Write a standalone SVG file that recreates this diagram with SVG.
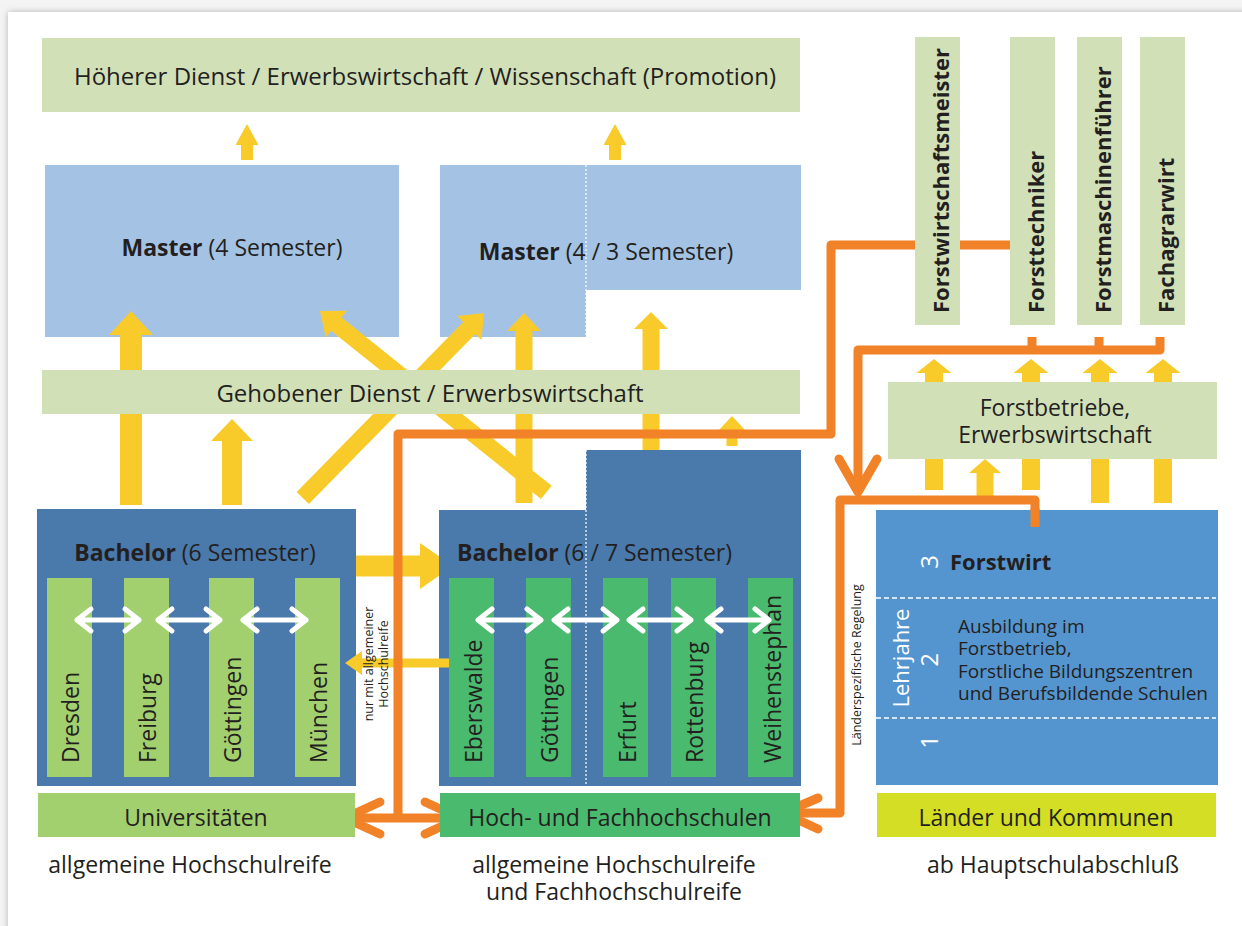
<svg xmlns="http://www.w3.org/2000/svg" width="1242" height="926" viewBox="0 0 1242 926">
<defs>
<filter id="sh" x="-5%" y="-5%" width="110%" height="110%"><feDropShadow dx="0" dy="0" stdDeviation="3" flood-color="#888" flood-opacity="0.6"/></filter>
<style>
.t{font-family:"Open Sans","Noto Sans","DejaVu Sans",sans-serif;fill:#231f20;font-size:23px}
.b{font-weight:bold}
.w{fill:#ffffff}
.lg{fill:#d2e0b8}
.ms{fill:#a4c3e4}
.ba{fill:#4a79ab}
.c1{fill:#a3d06e}
.c2{fill:#4aba6f}
.y{fill:#f9cb2a}
.or{fill:none;stroke:#f28227;stroke-width:9;stroke-linejoin:round;stroke-linecap:butt}
.orc{fill:none;stroke:#f28227;stroke-width:9;stroke-linejoin:round;stroke-linecap:round}
.wa{fill:none;stroke:#ffffff;stroke-width:5;stroke-linejoin:round;stroke-linecap:round}
.dash{fill:none;stroke:#ffffff;stroke-width:1.2;stroke-dasharray:2 2}
.dash2{fill:none;stroke:#ffffff;stroke-width:1.6;stroke-dasharray:5 3}
</style>
</defs>
<rect x="0" y="0" width="1242" height="926" fill="#f4f4f4"/>
<rect x="8" y="12" width="1250" height="930" fill="#ffffff" filter="url(#sh)"/>

<g id="hoeherer-dienst">
<rect class="lg" x="42" y="38" width="758" height="74"/>
<text class="t" style="font-size:24px" x="425" y="85" text-anchor="middle">Höherer Dienst / Erwerbswirtschaft / Wissenschaft (Promotion)</text>
</g>

<g id="master-left">
<rect class="ms" x="45" y="165" width="354" height="172"/>
<text class="t" x="232" y="256" text-anchor="middle"><tspan class="b">Master</tspan> (4 Semester)</text>
</g>

<g id="master-right">
<path class="ms" d="M440,165 H801 V290 H586 V337 H440 Z"/>
<line class="dash" x1="586" y1="165" x2="586" y2="337"/>
<text class="t" x="606" y="260" text-anchor="middle"><tspan class="b">Master</tspan> (4 / 3 Semester)</text>
</g>

<g id="yellow-arrows">
<polygon class="y" points="247,124 258.5,145 253,145 253,160 241,160 241,145 235.5,145"/>
<polygon class="y" points="615,124 626.5,145 621,145 621,160 609,160 609,145 603.5,145"/>
<polygon class="y" points="131,311 153,335 142,335 142,505 120,505 120,335 109,335"/>
<polygon class="y" points="232,419 253,441 242,441 242,505 222,505 222,441 211,441"/>
<polygon class="y" points="524,313 541,331 532.5,331 532.5,503 515.5,503 515.5,331 507,331"/>
<polygon class="y" points="651,312 668,329 659.5,329 659.5,452 642.5,452 642.5,329 634,329"/>
<polygon class="y" points="732,416 745,430 737.5,430 737.5,446 726.5,446 726.5,430 719,430"/>
<polygon class="y" points="0,0 17,21 8.5,21 8.5,259 -8.5,259 -8.5,21 -17,21" transform="translate(484 313) rotate(44.4)"/>
<polygon class="y" points="0,0 17,21 8.5,21 8.5,290 -8.5,290 -8.5,21 -17,21" transform="translate(320 311) rotate(-51.3)"/>
<polygon class="y" points="453,566 420,543 420,555.5 349,555.5 349,576.5 420,576.5 420,589"/>
<polygon class="y" points="934,359 951.5,373 943,373 943,490 925,490 925,373 916.5,373"/>
<polygon class="y" points="1031,359 1048.5,373 1040,373 1040,490 1022,490 1022,373 1013.5,373"/>
<polygon class="y" points="1100,359 1117.5,373 1109,373 1109,503 1091,503 1091,373 1082.5,373"/>
<polygon class="y" points="1163,359 1180.5,373 1172,373 1172,503 1154,503 1154,373 1145.5,373"/>
<polygon class="y" points="985,459 1001,473 993.5,473 993.5,497 976.5,497 976.5,473 969,473"/>
</g>

<g id="gehobener-dienst">
<rect class="lg" x="42" y="370" width="758" height="44"/>
<text class="t" style="font-size:24px" x="430" y="402" text-anchor="middle">Gehobener Dienst / Erwerbswirtschaft</text>
</g>

<g id="bachelor-left">
<rect class="ba" x="37" y="509" width="319" height="277"/>
<text class="t" x="195" y="561" text-anchor="middle"><tspan class="b">Bachelor</tspan> (6 Semester)</text>
<rect class="c1" x="47" y="578" width="45" height="199"/>
<rect class="c1" x="124" y="578" width="45" height="199"/>
<rect class="c1" x="209" y="578" width="45" height="199"/>
<rect class="c1" x="295" y="578" width="45" height="199"/>
<text class="t" transform="translate(79 763) rotate(-90)">Dresden</text>
<text class="t" transform="translate(156 763) rotate(-90)">Freiburg</text>
<text class="t" transform="translate(241 763) rotate(-90)">Göttingen</text>
<text class="t" transform="translate(327 763) rotate(-90)">München</text>
<path class="wa" d="M77,620 H139 M91,609 L77,620 L91,631 M125,609 L139,620 L125,631"/>
<path class="wa" d="M158,620 H220 M172,609 L158,620 L172,631 M206,609 L220,620 L206,631"/>
<path class="wa" d="M243,620 H306 M257,609 L243,620 L257,631 M292,609 L306,620 L292,631"/>
</g>

<g id="bachelor-right">
<path class="ba" d="M439,510 H586 V450 H801 V786 H439 Z"/>
<line class="dash" x1="586" y1="450" x2="586" y2="786"/>
<text class="t" x="457" y="561"><tspan class="b">Bachelor</tspan> (6 / 7 Semester)</text>
<rect class="c2" x="449" y="578" width="45" height="199"/>
<rect class="c2" x="526" y="578" width="45" height="199"/>
<rect class="c2" x="603" y="578" width="45" height="199"/>
<rect class="c2" x="671" y="578" width="45" height="199"/>
<rect class="c2" x="748" y="578" width="45" height="199"/>
<text class="t" transform="translate(482 763) rotate(-90)">Eberswalde</text>
<text class="t" transform="translate(558 763) rotate(-90)">Göttingen</text>
<text class="t" transform="translate(636 763) rotate(-90)">Erfurt</text>
<text class="t" transform="translate(703 763) rotate(-90)">Rottenburg</text>
<text class="t" transform="translate(781 763) rotate(-90)">Weihenstephan</text>
<path class="wa" d="M478,620 H541 M492,609 L478,620 L492,631 M527,609 L541,620 L527,631"/>
<path class="wa" d="M554,620 H617 M568,609 L554,620 L568,631 M603,609 L617,620 L603,631"/>
<path class="wa" d="M629,620 H691 M643,609 L629,620 L643,631 M677,609 L691,620 L677,631"/>
<path class="wa" d="M707,620 H769 M721,609 L707,620 L721,631 M755,609 L769,620 L755,631"/>
</g>

<g id="hochschulreife-note">
<polygon class="y" points="345,663 362,651 362,658.5 449,658.5 449,667.5 362,667.5 362,675"/>
<text class="t" style="font-size:12.5px" transform="translate(373 664) rotate(-90)" text-anchor="middle">nur mit allgemeiner</text>
<text class="t" style="font-size:12.5px" transform="translate(388 664) rotate(-90)" text-anchor="middle">Hochschulreife</text>
</g>

<g id="connectors">
<path class="or" d="M398,818 V434 H831 V245 H1010"/>
<path class="or" d="M1160,337 V350 H858 V492"/>
<path class="or" d="M1032,337 V350 M1099,337 V350"/>
<path class="orc" d="M839,459 L858,492 L877,459"/>
<path class="or" d="M1035,527 V500 H840 V813 H785"/>
<path class="orc" d="M818,798 L783,813 L818,829"/>
<path class="or" d="M346,818 H460"/>
<path class="orc" d="M380,802 L345,818 L380,834 M425,802 L460,818 L425,834"/>
</g>

<g id="jobs">
<rect class="lg" x="915" y="37" width="45" height="288"/>
<rect class="lg" x="1010" y="37" width="45" height="288"/>
<rect class="lg" x="1077" y="37" width="45" height="288"/>
<rect class="lg" x="1140" y="37" width="45" height="288"/>
<text class="t b" style="font-size:22px" transform="translate(949 313) rotate(-90)">Forstwirtschaftsmeister</text>
<text class="t b" style="font-size:22px" transform="translate(1044 313) rotate(-90)">Forsttechniker</text>
<text class="t b" style="font-size:22px" transform="translate(1111 313) rotate(-90)">Forstmaschinenführer</text>
<text class="t b" style="font-size:22px" transform="translate(1174 313) rotate(-90)">Fachagrarwirt</text>
</g>

<g id="forstbetriebe">
<rect class="lg" x="888" y="382" width="329" height="77"/>
<text class="t" x="1055" y="416" text-anchor="middle">Forstbetriebe,</text>
<text class="t" x="1055" y="443" text-anchor="middle">Erwerbswirtschaft</text>
</g>

<g id="forstwirt">
<rect x="876" y="510" width="342" height="275" fill="#5495d0"/>
<path class="or" d="M1035,527 V508"/>
<line class="dash2" x1="876" y1="598" x2="1216" y2="598"/>
<line class="dash2" x1="876" y1="718" x2="1216" y2="718"/>
<text class="t w" style="font-size:24px" transform="translate(938 562) rotate(-90)" text-anchor="middle">3</text>
<text class="t w" style="font-size:24px" transform="translate(938 660) rotate(-90)" text-anchor="middle">2</text>
<text class="t w" style="font-size:24px" transform="translate(938 742) rotate(-90)" text-anchor="middle">1</text>
<text class="t w" style="font-size:22px" transform="translate(909 658) rotate(-90)" text-anchor="middle">Lehrjahre</text>
<text class="t b" style="font-size:22px" x="950" y="570">Forstwirt</text>
<text class="t" style="font-size:19px" x="958" y="633">Ausbildung im</text>
<text class="t" style="font-size:19px" x="958" y="655">Forstbetrieb,</text>
<text class="t" style="font-size:19px" x="958" y="678">Forstliche Bildungszentren</text>
<text class="t" style="font-size:19px" x="958" y="700">und Berufsbildende Schulen</text>
</g>

<g id="regelung-note">
<text class="t" style="font-size:12.5px" transform="translate(861 665) rotate(-90)" text-anchor="middle">Länderspezifische Regelung</text>
</g>

<g id="universitaeten">
<rect class="c1" x="38" y="793" width="317" height="44"/>
<text class="t" x="196" y="826" text-anchor="middle">Universitäten</text>
</g>
<g id="hochschulen">
<rect class="c2" x="440" y="793" width="360" height="44"/>
<text class="t" x="620" y="826" text-anchor="middle">Hoch- und Fachhochschulen</text>
</g>
<g id="laender">
<rect x="877" y="793" width="339" height="44" fill="#d4de24"/>
<text class="t" x="1046" y="826" text-anchor="middle">Länder und Kommunen</text>
</g>

<g id="requirements">
<text class="t" x="190" y="873" text-anchor="middle">allgemeine Hochschulreife</text>
<text class="t" x="614" y="873" text-anchor="middle">allgemeine Hochschulreife</text>
<text class="t" x="614" y="900" text-anchor="middle">und Fachhochschulreife</text>
<text class="t" x="1053" y="873" text-anchor="middle">ab Hauptschulabschluß</text>
</g>
</svg>
